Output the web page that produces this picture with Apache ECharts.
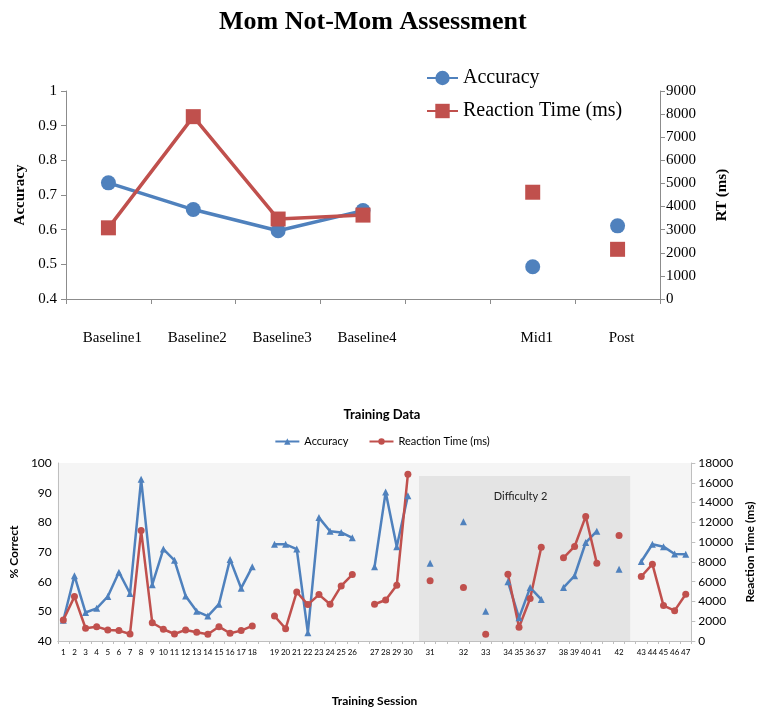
<!DOCTYPE html>
<html><head><meta charset="utf-8">
<script src="https://cdn.jsdelivr.net/npm/echarts@6/dist/echarts.min.js"></script>
<style>html,body{margin:0;padding:0;background:#fff}#c{width:764px;height:716px}</style>
</head><body><div id="c"></div>
<script>
// ---------- Top chart: Mom Not-Mom Assessment ----------
const topCategories = ['Baseline1', 'Baseline2', 'Baseline3', 'Baseline4', '', 'Mid1', 'Post'];
const topAccuracy = [0.735, 0.658, 0.597, 0.655, null, 0.493, 0.611];
const topRT = [3080, 7890, 3460, 3630, null, 4620, 2150];
const topAccTicks = [0.4, 0.5, 0.6, 0.7, 0.8, 0.9, 1];
const topRTTicks = [0, 1000, 2000, 3000, 4000, 5000, 6000, 7000, 8000, 9000];

// ---------- Bottom chart: Training Data ----------
const sessionLabels = [
  '1','2','3','4','5','6','7','8','9','10','11','12','13','14','15','16','17','18','',
  '19','20','21','22','23','24','25','26','',
  '27','28','29','30','',
  '31','','',
  '32','',
  '33','',
  '34','35','36','37','',
  '38','39','40','41','',
  '42','',
  '43','44','45','46','47'
];
const trainingAccuracy = [
  47, 62, 49.6, 51, 55, 63.2, 56, 94.5, 59, 71, 67.2, 55.2, 50, 48.4, 52.4, 67.5, 57.8, 65, null,
  72.6, 72.6, 71, 42.8, 81.6, 77, 76.6, 74.8, null,
  65, 90.2, 71.8, 89, null,
  66.2, null, null,
  80.2, null,
  50, null,
  60, 47.8, 58, 54, null,
  58, 62, 73.2, 77, null,
  64.2, null,
  66.8, 72.6, 71.8, 69.3, 69.2
];
const trainingRT = [
  2130, 4490, 1290, 1450, 1110, 1050, 710, 11170, 1850, 1190, 710, 1120, 880, 680, 1450, 780, 1050, 1520, null,
  2530, 1250, 4960, 3680, 4690, 3720, 5570, 6720, null,
  3720, 4150, 5640, 16850, null,
  6100, null, null,
  5400, null,
  680, null,
  6750, 1390, 4290, 9490, null,
  8410, 9560, 12600, 7870, null,
  10670, null,
  6520, 7770, 3580, 3070, 4730
];
const correctTicks = [40, 50, 60, 70, 80, 90, 100];
const rtTicks = [0, 2000, 4000, 6000, 8000, 10000, 12000, 14000, 16000, 18000];
const difficultyBand = { label: 'Difficulty 2', fromSlot: 32, toSlot: 51, top: 95.6 };

const BLUE = '#4F81BD', RED = '#C0504D';
const serif = 'Liberation Serif';
const sans = 'Lato';

const isBaseline = topCategories.map(c => c.indexOf('Baseline') === 0);
const lineOnly = arr => arr.map((v, i) => isBaseline[i] ? v : null);
const pointOnly = arr => arr.map((v, i) => isBaseline[i] ? null : v);
const plain = v => String(Math.round(v * 1000) / 1000);

const legendNames = { 'Training Accuracy': 'Accuracy', 'Training RT': 'Reaction Time (ms)' };

const chart = echarts.init(document.getElementById('c'));
chart.setOption({
  animation: false,
  backgroundColor: '#fff',
  title: [
    { text: 'Mom Not-Mom Assessment', left: 214, top: 4,
      textStyle: { fontFamily: serif, fontSize: 26, fontWeight: 'bold', color: '#000' } },
    { text: 'Training Data', left: 'center', top: 403,
      textStyle: { fontFamily: sans, fontSize: 13, fontWeight: 'bold', color: '#000' } }
  ],
  legend: [
    { orient: 'vertical', left: 421, top: 63, itemWidth: 31, itemHeight: 18, itemGap: 13,
      data: ['Accuracy', 'Reaction Time (ms)'],
      textStyle: { fontFamily: serif, fontSize: 20, color: '#000' } },
    { orient: 'horizontal', left: 'center', top: 431, itemWidth: 24, itemHeight: 8, itemGap: 20,
      data: ['Training Accuracy', 'Training RT'],
      formatter: n => legendNames[n],
      textStyle: { fontFamily: sans, fontSize: 11, color: '#000' } }
  ],
  grid: [
    { left: 66, top: 91, width: 594, height: 208 },
    { left: 55, top: 463, width: 641, height: 178, show: true, backgroundColor: '#f5f5f5', borderWidth: 0 }
  ],
  xAxis: [
    { type: 'category', gridIndex: 0, data: topCategories, boundaryGap: true,
      axisLine: { lineStyle: { color: '#8c8c8c' } },
      axisTick: { show: true, interval: 0, length: 5, lineStyle: { color: '#8c8c8c' } },
      axisLabel: { interval: 0, margin: 32, padding: [0, 0, 0, 8], fontFamily: serif, fontSize: 15, color: '#000' } },
    { type: 'category', gridIndex: 1, data: sessionLabels, boundaryGap: true,
      name: 'Training Session', nameLocation: 'middle', nameGap: 54,
      nameTextStyle: { fontFamily: sans, fontSize: 12, fontWeight: 'bold', color: '#000' },
      axisLine: { lineStyle: { color: '#bfbfbf' } },
      axisTick: { show: true, interval: 0, length: 3, lineStyle: { color: '#bfbfbf' } },
      axisLabel: { interval: 0, margin: 7, fontFamily: sans, fontSize: 8, color: '#000' } }
  ],
  yAxis: [
    { type: 'value', gridIndex: 0, min: topAccTicks[0], max: topAccTicks[topAccTicks.length - 1],
      interval: topAccTicks[1] - topAccTicks[0],
      name: 'Accuracy', nameLocation: 'middle', nameGap: 38,
      nameTextStyle: { fontFamily: serif, fontSize: 15, fontWeight: 'bold', color: '#000' },
      splitLine: { show: false },
      axisLine: { show: true, lineStyle: { color: '#8c8c8c' } },
      axisTick: { show: true, length: 5, lineStyle: { color: '#8c8c8c' } },
      axisLabel: { margin: 9, fontFamily: serif, fontSize: 15, color: '#000', formatter: plain } },
    { type: 'value', gridIndex: 0, position: 'right', min: topRTTicks[0], max: topRTTicks[topRTTicks.length - 1],
      interval: topRTTicks[1] - topRTTicks[0],
      name: 'RT (ms)', nameLocation: 'middle', nameGap: 55,
      nameTextStyle: { fontFamily: serif, fontSize: 15, fontWeight: 'bold', color: '#000' },
      splitLine: { show: false },
      axisLine: { show: true, lineStyle: { color: '#8c8c8c' } },
      axisTick: { show: true, length: 5, lineStyle: { color: '#8c8c8c' } },
      axisLabel: { margin: 6, fontFamily: serif, fontSize: 15, color: '#000', formatter: plain } },
    { type: 'value', gridIndex: 1, min: correctTicks[0], max: correctTicks[correctTicks.length - 1],
      interval: correctTicks[1] - correctTicks[0],
      name: '% Correct', nameLocation: 'middle', nameGap: 37,
      nameTextStyle: { fontFamily: sans, fontSize: 12, fontWeight: 'bold', color: '#000' },
      splitLine: { show: false },
      axisLine: { show: true, lineStyle: { color: '#bfbfbf' } },
      axisTick: { show: false },
      axisLabel: { margin: 6, fontFamily: sans, fontSize: 12, color: '#000', formatter: plain } },
    { type: 'value', gridIndex: 1, position: 'right', min: rtTicks[0], max: rtTicks[rtTicks.length - 1],
      interval: rtTicks[1] - rtTicks[0],
      name: 'Reaction Time (ms)', nameLocation: 'middle', nameGap: 49,
      nameTextStyle: { fontFamily: sans, fontSize: 12, fontWeight: 'bold', color: '#000' },
      splitLine: { show: false },
      axisLine: { show: true, lineStyle: { color: '#bfbfbf' } },
      axisTick: { show: true, length: 4, lineStyle: { color: '#bfbfbf' } },
      axisLabel: { margin: 7, fontFamily: sans, fontSize: 12, color: '#000', formatter: plain } }
  ],
  series: [
    { name: 'Accuracy', type: 'line', xAxisIndex: 0, yAxisIndex: 0, data: lineOnly(topAccuracy),
      symbol: 'circle', symbolSize: 15, connectNulls: false,
      lineStyle: { color: BLUE, width: 3.5 }, itemStyle: { color: BLUE } },
    { name: 'Accuracy', type: 'scatter', xAxisIndex: 0, yAxisIndex: 0, data: pointOnly(topAccuracy),
      symbol: 'circle', symbolSize: 15, itemStyle: { color: BLUE, opacity: 1 } },
    { name: 'Reaction Time (ms)', type: 'line', xAxisIndex: 0, yAxisIndex: 1, data: lineOnly(topRT),
      symbol: 'rect', symbolSize: 15, connectNulls: false,
      lineStyle: { color: RED, width: 3.5 }, itemStyle: { color: RED } },
    { name: 'Reaction Time (ms)', type: 'scatter', xAxisIndex: 0, yAxisIndex: 1, data: pointOnly(topRT),
      symbol: 'rect', symbolSize: 15, itemStyle: { color: RED, opacity: 1 } },
    { name: 'Training Accuracy', type: 'line', xAxisIndex: 1, yAxisIndex: 2, data: trainingAccuracy,
      symbol: 'triangle', symbolSize: 7, showAllSymbol: true, connectNulls: false,
      lineStyle: { color: BLUE, width: 2.5 }, itemStyle: { color: BLUE },
      markArea: { silent: true, itemStyle: { color: '#e4e4e4' },
        label: { show: true, position: 'insideTop', distance: 15, offset: [-4, 0],
          fontFamily: sans, fontSize: 11, color: '#222' },
        data: [[{ name: difficultyBand.label, xAxis: difficultyBand.fromSlot, yAxis: difficultyBand.top },
                { xAxis: difficultyBand.toSlot, yAxis: correctTicks[0] }]] } },
    { name: 'Training RT', type: 'line', xAxisIndex: 1, yAxisIndex: 3, data: trainingRT,
      symbol: 'circle', symbolSize: 7, showAllSymbol: true, connectNulls: false,
      lineStyle: { color: RED, width: 2.5 }, itemStyle: { color: RED } }
  ]
});
</script></body></html>
